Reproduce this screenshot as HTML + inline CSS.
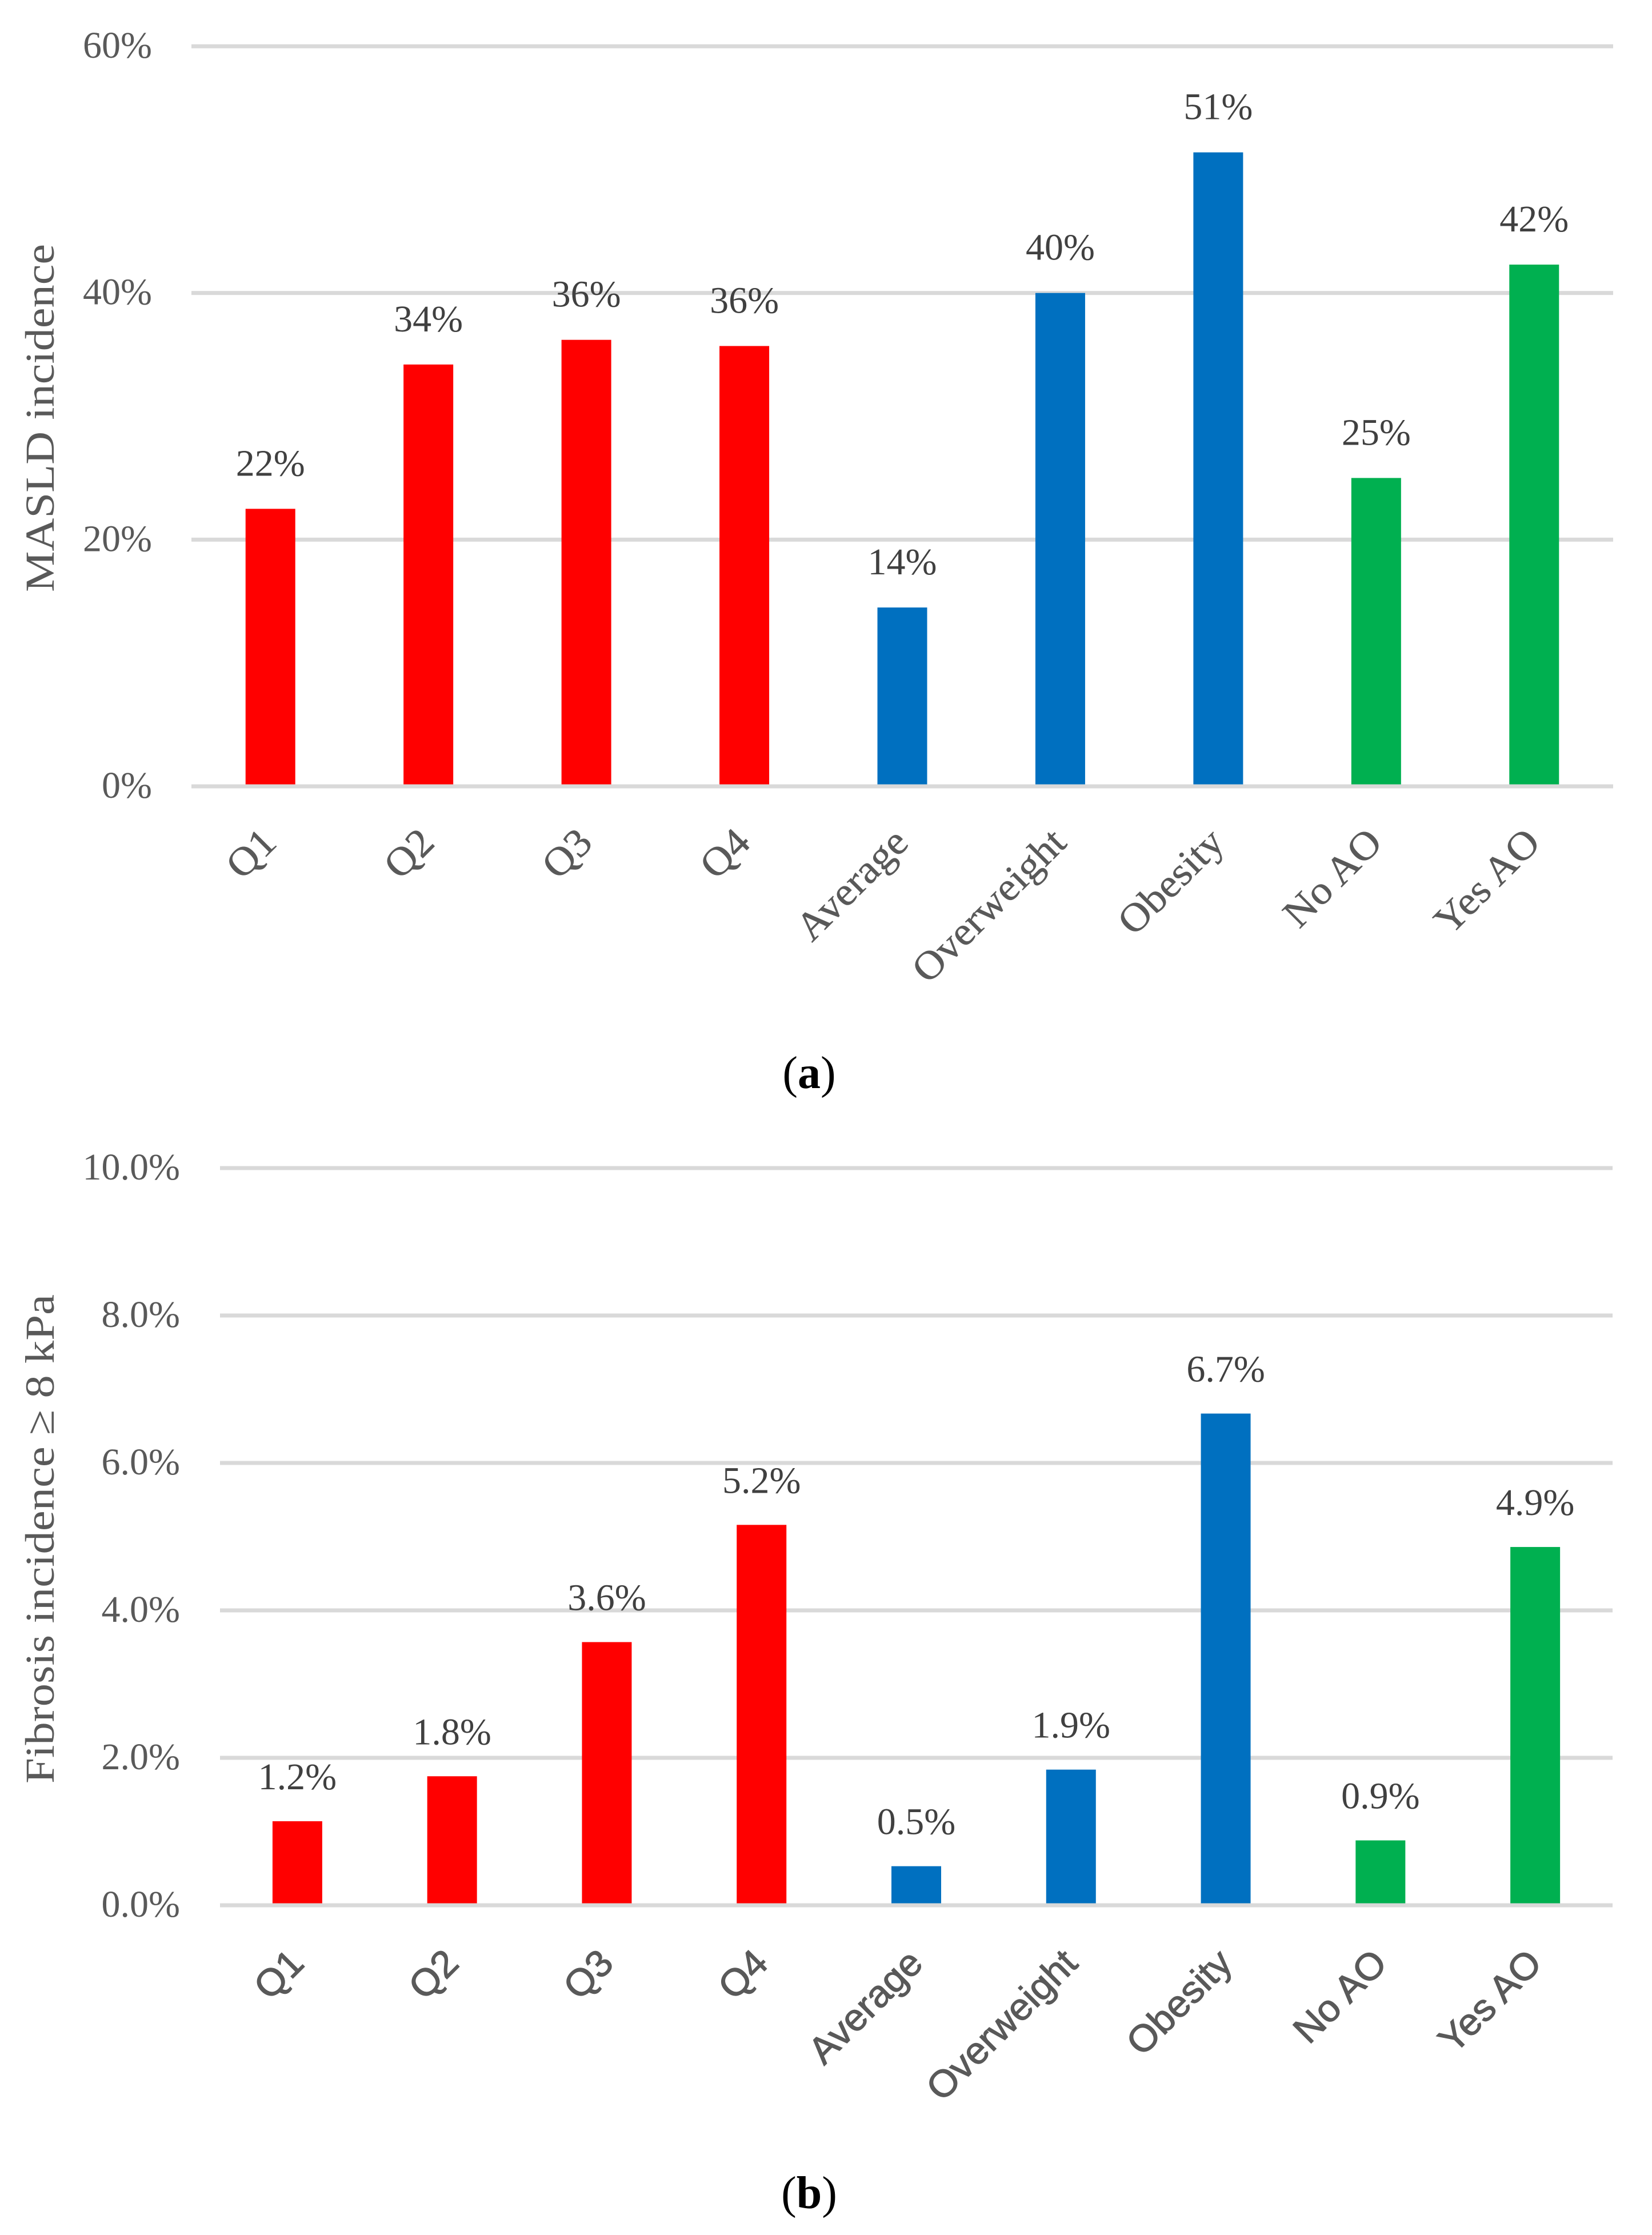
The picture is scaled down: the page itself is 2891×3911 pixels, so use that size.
<!DOCTYPE html>
<html lang="en">
<head>
<meta charset="utf-8">
<title>MASLD and fibrosis incidence</title>
<style>
html,body{margin:0;padding:0;background:#fff;}
svg{display:block;}
text{font-family:"Liberation Serif",serif;}
</style>
</head>
<body>
<svg id="figure" xmlns="http://www.w3.org/2000/svg" width="2891" height="3911" viewBox="0 0 2891 3911">
  <g id="panel-a"></g>
  <g id="panel-b"></g>
  <text transform="translate(94,1036) rotate(-90)" font-size="72" fill="#595959" textLength="609" lengthAdjust="spacingAndGlyphs">MASLD incidence</text>
  <text transform="translate(94,3121) rotate(-90)" font-size="72" fill="#595959" textLength="856" lengthAdjust="spacingAndGlyphs">Fibrosis incidence ≥ 8 kPa</text>
  <text x="1416" y="1904" font-size="80" fill="#000" text-anchor="middle">(<tspan font-weight="bold">a</tspan>)</text>
  <text x="1416" y="3864" font-size="80" fill="#000" text-anchor="middle">(<tspan font-weight="bold">b</tspan>)</text>
</svg>
<script>
const categories = ['Q1','Q2','Q3','Q4','Average','Overweight','Obesity','No AO','Yes AO'];
const groups = ['quartile','quartile','quartile','quartile','bmi','bmi','bmi','ao','ao'];
const masldValues = [22.5,34.2,36.2,35.7,14.5,40.0,51.4,25.0,42.3];
const masldLabels = ['22%','34%','36%','36%','14%','40%','51%','25%','42%'];
const masldTicks = [0,20,40,60];
const masldTickLabels = ['0%','20%','40%','60%'];
const fibrosisValues = [1.14,1.75,3.57,5.16,0.53,1.84,6.67,0.88,4.86];
const fibrosisLabels = ['1.2%','1.8%','3.6%','5.2%','0.5%','1.9%','6.7%','0.9%','4.9%'];
const fibrosisTicks = [0,2,4,6,8,10];
const fibrosisTickLabels = ['0.0%','2.0%','4.0%','6.0%','8.0%','10.0%'];

const NS = 'http://www.w3.org/2000/svg';
const groupColor = {quartile:'#FF0000', bmi:'#0070C0', ao:'#00B050'};

function make(tag, parent, attrs, txt){
  const el = document.createElementNS(NS, tag);
  for (const k in attrs) el.setAttribute(k, attrs[k]);
  if (txt !== undefined) el.textContent = txt;
  parent.appendChild(el);
  return el;
}

function drawChart(cfg){
  const root = document.getElementById(cfg.id);
  const n = categories.length;
  const yScale = v => cfg.yBottom - (v - cfg.ticks[0]) / (cfg.ticks[cfg.ticks.length-1] - cfg.ticks[0]) * (cfg.yBottom - cfg.yTop);
  const xScale = i => cfg.left + (cfg.right - cfg.left) * (i + 0.5) / n;

  cfg.ticks.forEach((t, i) => {
    if (t === cfg.ticks[0]) return;
    const line = make('rect', root, {x:cfg.left, y:yScale(t)-3.5, width:cfg.right-cfg.left, height:7, fill:'#D9D9D9'});
    
    
  });

  cfg.ticks.forEach((t, i) => {
    const lab = make('text', root, {x:cfg.tickRight, y:yScale(t)+20, 'font-size':cfg.fontSize, fill:'#595959', 'text-anchor':'end'}, cfg.tickLabels[i]);
    
    
  });

  cfg.values.forEach((v, i) => {
    const cx = xScale(i);
    const top = yScale(v);
    const bar = make('rect', root, {x:cx-cfg.barWidth/2, y:top, width:cfg.barWidth, height:cfg.yBottom-top, fill:groupColor[groups[i]]});
    
    

    const val = make('text', root, {x:cx, y:top-cfg.labelGap, 'font-size':cfg.fontSize, fill:'#404040', 'text-anchor':'middle'}, cfg.labels[i]);
    
    

    const cat = make('text', root, {
      transform:'translate(' + (cx+cfg.catDx) + ',' + (cfg.yBottom+cfg.catDy) + ') rotate(-45) scale(' + cfg.catScale + ',1)',
      'font-size':cfg.catSize, fill:'#595959', stroke:'#595959', 'stroke-width':cfg.catStroke, 'text-anchor':'end', style:'font-family:' + cfg.catFont
    }, categories[i]);
    
    
  });

  const axis = make('rect', root, {x:cfg.left, y:cfg.yBottom-3.5, width:cfg.right-cfg.left, height:7, fill:'#D9D9D9'});
  
  
}

drawChart({
  id:'panel-a', values:masldValues, labels:masldLabels, ticks:masldTicks, tickLabels:masldTickLabels,
  left:335, right:2823, yTop:81, yBottom:1376, tickRight:266, barWidth:87, fontSize:66, labelGap:58,
  catDx:14, catDy:102, catSize:70, catScale:1.05, catStroke:0.5, catFont:'"Liberation Serif",serif'
});
drawChart({
  id:'panel-b', values:fibrosisValues, labels:fibrosisLabels, ticks:fibrosisTicks, tickLabels:fibrosisTickLabels,
  left:385, right:2822, yTop:2044, yBottom:3334, tickRight:315, barWidth:87, fontSize:66, labelGap:56,
  catDx:15, catDy:105, catSize:66, catScale:1.02, catStroke:1.2, catFont:'"Liberation Sans",sans-serif'
});
</script>
</body>
</html>
